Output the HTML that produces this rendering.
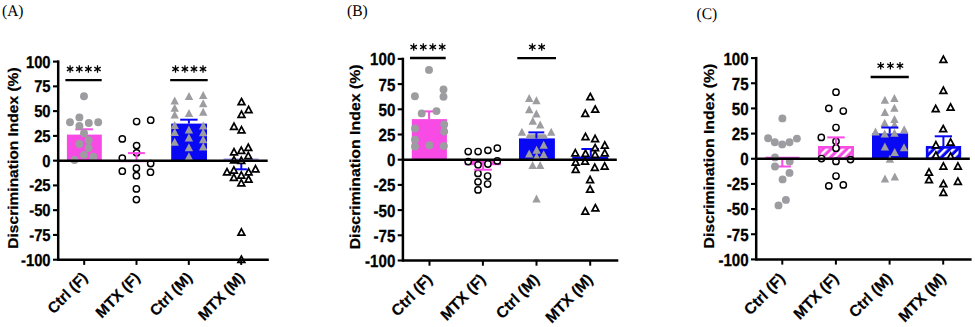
<!DOCTYPE html>
<html><head><meta charset="utf-8"><title>Discrimination Index</title>
<style>html,body{margin:0;padding:0;background:#fff;}body{width:975px;height:327px;overflow:hidden;}svg{display:block;}</style></head><body>
<svg width="975" height="327" viewBox="0 0 975 327">
<defs>
<pattern id="hp" patternUnits="userSpaceOnUse" width="5.6" height="5.6" patternTransform="rotate(45)"><rect width="5.6" height="5.6" fill="#f84ae4"/><rect x="0" width="2.5" height="5.6" fill="#fff"/></pattern>
<pattern id="hb" patternUnits="userSpaceOnUse" width="5.6" height="5.6" patternTransform="rotate(45)"><rect width="5.6" height="5.6" fill="#0808f5"/><rect x="0" width="2.5" height="5.6" fill="#fff"/></pattern>
</defs>
<rect width="975" height="327" fill="#fff"/>
<rect x="66.9" y="134.6" width="34.9" height="26.05" fill="#f84ae4"/>
<line x1="84.2" y1="134.6" x2="84.2" y2="129.3" stroke="#f84ae4" stroke-width="2" stroke-linecap="butt"/>
<line x1="75.3" y1="129.3" x2="92.9" y2="129.3" stroke="#f84ae4" stroke-width="2" stroke-linecap="butt"/>
<circle cx="84" cy="96.2" r="3.95" fill="#9d9da1"/>
<circle cx="79.4" cy="117.4" r="3.95" fill="#9d9da1"/>
<circle cx="70" cy="122.2" r="3.95" fill="#9d9da1"/>
<circle cx="79.4" cy="125.9" r="3.95" fill="#9d9da1"/>
<circle cx="88.8" cy="123" r="3.95" fill="#9d9da1"/>
<circle cx="98.2" cy="122.2" r="3.95" fill="#9d9da1"/>
<circle cx="88.6" cy="140.3" r="3.95" fill="#9d9da1"/>
<circle cx="79.4" cy="144" r="3.95" fill="#9d9da1"/>
<circle cx="88.6" cy="148" r="3.95" fill="#9d9da1"/>
<circle cx="84" cy="154.9" r="3.95" fill="#9d9da1"/>
<circle cx="93.3" cy="156.7" r="3.95" fill="#9d9da1"/>
<circle cx="74.5" cy="160" r="3.95" fill="#9d9da1"/>
<circle cx="84" cy="133.2" r="3.95" fill="#9d9da1"/>
<line x1="119" y1="161.9" x2="154" y2="161.9" stroke="#f84ae4" stroke-width="1" stroke-linecap="butt" opacity="0.5"/>
<circle cx="136.6" cy="121.5" r="3.15" fill="#fff" stroke="#000" stroke-width="1.45"/>
<circle cx="150.7" cy="120.2" r="3.15" fill="#fff" stroke="#000" stroke-width="1.45"/>
<circle cx="122.3" cy="138.9" r="3.15" fill="#fff" stroke="#000" stroke-width="1.45"/>
<circle cx="136.6" cy="145.6" r="3.15" fill="#fff" stroke="#000" stroke-width="1.45"/>
<circle cx="136.6" cy="152.8" r="3.15" fill="#fff" stroke="#000" stroke-width="1.45"/>
<circle cx="122.3" cy="158.1" r="3.15" fill="#fff" stroke="#000" stroke-width="1.45"/>
<circle cx="150.7" cy="163.5" r="3.15" fill="#fff" stroke="#000" stroke-width="1.45"/>
<circle cx="122.3" cy="171.2" r="3.15" fill="#fff" stroke="#000" stroke-width="1.45"/>
<circle cx="136.4" cy="168.2" r="3.15" fill="#fff" stroke="#000" stroke-width="1.45"/>
<circle cx="136.4" cy="175.7" r="3.15" fill="#fff" stroke="#000" stroke-width="1.45"/>
<circle cx="150.5" cy="172.2" r="3.15" fill="#fff" stroke="#000" stroke-width="1.45"/>
<circle cx="136.4" cy="188.9" r="3.15" fill="#fff" stroke="#000" stroke-width="1.45"/>
<circle cx="136.4" cy="199.6" r="3.15" fill="#fff" stroke="#000" stroke-width="1.45"/>
<line x1="136.5" y1="160.65" x2="136.5" y2="153.1" stroke="#f84ae4" stroke-width="2" stroke-linecap="butt"/>
<line x1="128" y1="153.1" x2="144.9" y2="153.1" stroke="#f84ae4" stroke-width="2" stroke-linecap="butt"/>
<rect x="171.2" y="123.6" width="35.8" height="37.05" fill="#0808f5"/>
<polygon points="174.7,96.6 178.9,104.6 170.5,104.6" fill="#9d9da1"/>
<polygon points="174.7,103.7 178.9,111.7 170.5,111.7" fill="#9d9da1"/>
<polygon points="174.7,110.6 178.9,118.6 170.5,118.6" fill="#9d9da1"/>
<polygon points="174.7,120.9 178.9,128.9 170.5,128.9" fill="#9d9da1"/>
<polygon points="174.7,127.9 178.9,135.9 170.5,135.9" fill="#9d9da1"/>
<polygon points="174.7,137.7 178.9,145.7 170.5,145.7" fill="#9d9da1"/>
<polygon points="189,92.1 193.2,100.1 184.8,100.1" fill="#9d9da1"/>
<polygon points="189,109 193.2,117 184.8,117" fill="#9d9da1"/>
<polygon points="188.9,125.4 193.1,133.4 184.7,133.4" fill="#9d9da1"/>
<polygon points="188.9,133.6 193.1,141.6 184.7,141.6" fill="#9d9da1"/>
<polygon points="188.9,143.3 193.1,151.3 184.7,151.3" fill="#9d9da1"/>
<polygon points="188.9,152.3 193.1,160.3 184.7,160.3" fill="#9d9da1"/>
<polygon points="203.2,91 207.4,99 199,99" fill="#9d9da1"/>
<polygon points="203.2,99.2 207.4,107.2 199,107.2" fill="#9d9da1"/>
<polygon points="203.2,107.7 207.4,115.7 199,115.7" fill="#9d9da1"/>
<polygon points="203.2,121.4 207.4,129.4 199,129.4" fill="#9d9da1"/>
<polygon points="203.2,128.3 207.4,136.3 199,136.3" fill="#9d9da1"/>
<polygon points="203.2,135.2 207.4,143.2 199,143.2" fill="#9d9da1"/>
<polygon points="203.2,142.4 207.4,150.4 199,150.4" fill="#9d9da1"/>
<line x1="188.9" y1="123.6" x2="188.9" y2="119.7" stroke="#0808f5" stroke-width="2" stroke-linecap="butt"/>
<line x1="180.2" y1="119.7" x2="197.6" y2="119.7" stroke="#0808f5" stroke-width="2" stroke-linecap="butt"/>
<line x1="223.5" y1="159.1" x2="258.5" y2="159.1" stroke="#0808f5" stroke-width="1" stroke-linecap="butt" opacity="0.55"/>
<line x1="241.3" y1="160.65" x2="241.3" y2="169.3" stroke="#0808f5" stroke-width="2" stroke-linecap="butt"/>
<line x1="235.9" y1="169.3" x2="246.9" y2="169.3" stroke="#0808f5" stroke-width="2" stroke-linecap="butt"/>
<polygon points="241.5,98.5 244.85,104.7 238.15,104.7" fill="#fff" stroke="#000" stroke-width="1.75" stroke-linejoin="miter"/>
<polygon points="248.6,106.4 251.95,112.6 245.25,112.6" fill="#fff" stroke="#000" stroke-width="1.75" stroke-linejoin="miter"/>
<polygon points="241.5,111.1 244.85,117.3 238.15,117.3" fill="#fff" stroke="#000" stroke-width="1.75" stroke-linejoin="miter"/>
<polygon points="234,123.2 237.35,129.4 230.65,129.4" fill="#fff" stroke="#000" stroke-width="1.75" stroke-linejoin="miter"/>
<polygon points="241.5,126.7 244.85,132.9 238.15,132.9" fill="#fff" stroke="#000" stroke-width="1.75" stroke-linejoin="miter"/>
<polygon points="234,148.6 237.35,154.8 230.65,154.8" fill="#fff" stroke="#000" stroke-width="1.75" stroke-linejoin="miter"/>
<polygon points="241.3,147.1 244.65,153.3 237.95,153.3" fill="#fff" stroke="#000" stroke-width="1.75" stroke-linejoin="miter"/>
<polygon points="248.3,144.1 251.65,150.3 244.95,150.3" fill="#fff" stroke="#000" stroke-width="1.75" stroke-linejoin="miter"/>
<polygon points="248.3,152.4 251.65,158.6 244.95,158.6" fill="#fff" stroke="#000" stroke-width="1.75" stroke-linejoin="miter"/>
<polygon points="234,156.7 237.35,162.9 230.65,162.9" fill="#fff" stroke="#000" stroke-width="1.75" stroke-linejoin="miter"/>
<polygon points="241.3,157.1 244.65,163.3 237.95,163.3" fill="#fff" stroke="#000" stroke-width="1.75" stroke-linejoin="miter"/>
<polygon points="227,168.6 230.35,174.8 223.65,174.8" fill="#fff" stroke="#000" stroke-width="1.75" stroke-linejoin="miter"/>
<polygon points="233.9,166.8 237.25,173 230.55,173" fill="#fff" stroke="#000" stroke-width="1.75" stroke-linejoin="miter"/>
<polygon points="241.3,171.8 244.65,178 237.95,178" fill="#fff" stroke="#000" stroke-width="1.75" stroke-linejoin="miter"/>
<polygon points="248.6,168.6 251.95,174.8 245.25,174.8" fill="#fff" stroke="#000" stroke-width="1.75" stroke-linejoin="miter"/>
<polygon points="255.5,165.6 258.85,171.8 252.15,171.8" fill="#fff" stroke="#000" stroke-width="1.75" stroke-linejoin="miter"/>
<polygon points="233.9,174.1 237.25,180.3 230.55,180.3" fill="#fff" stroke="#000" stroke-width="1.75" stroke-linejoin="miter"/>
<polygon points="248.6,175.9 251.95,182.1 245.25,182.1" fill="#fff" stroke="#000" stroke-width="1.75" stroke-linejoin="miter"/>
<polygon points="241.3,179.6 244.65,185.8 237.95,185.8" fill="#fff" stroke="#000" stroke-width="1.75" stroke-linejoin="miter"/>
<polygon points="241.4,228.9 244.75,235.1 238.05,235.1" fill="#fff" stroke="#000" stroke-width="1.75" stroke-linejoin="miter"/>
<polygon points="241.4,256.2 244.75,262.4 238.05,262.4" fill="#fff" stroke="#000" stroke-width="1.75" stroke-linejoin="miter"/>
<rect x="411.8" y="119.1" width="35.1" height="40.6" fill="#f84ae4"/>
<line x1="429.1" y1="119.1" x2="429.1" y2="111.4" stroke="#f84ae4" stroke-width="2" stroke-linecap="butt"/>
<line x1="420.5" y1="111.4" x2="437.7" y2="111.4" stroke="#f84ae4" stroke-width="2" stroke-linecap="butt"/>
<circle cx="429" cy="69.9" r="3.95" fill="#9d9da1"/>
<circle cx="443.5" cy="89.5" r="3.95" fill="#9d9da1"/>
<circle cx="443.5" cy="96.7" r="3.95" fill="#9d9da1"/>
<circle cx="414.9" cy="96.2" r="3.95" fill="#9d9da1"/>
<circle cx="421.7" cy="113.4" r="3.95" fill="#9d9da1"/>
<circle cx="436.5" cy="111.1" r="3.95" fill="#9d9da1"/>
<circle cx="415" cy="128.4" r="3.95" fill="#9d9da1"/>
<circle cx="444.2" cy="124.4" r="3.95" fill="#9d9da1"/>
<circle cx="444.2" cy="131.6" r="3.95" fill="#9d9da1"/>
<circle cx="415" cy="139.6" r="3.95" fill="#9d9da1"/>
<circle cx="415" cy="146.6" r="3.95" fill="#9d9da1"/>
<circle cx="429.4" cy="145.3" r="3.95" fill="#9d9da1"/>
<circle cx="443.9" cy="145.9" r="3.95" fill="#9d9da1"/>
<rect x="464.8" y="159.7" width="36" height="5.5" fill="#f84ae4"/>
<circle cx="468.2" cy="151.5" r="3.15" fill="#fff" stroke="#000" stroke-width="1.45"/>
<circle cx="478.1" cy="151.5" r="3.15" fill="#fff" stroke="#000" stroke-width="1.45"/>
<circle cx="487.9" cy="150.3" r="3.15" fill="#fff" stroke="#000" stroke-width="1.45"/>
<circle cx="497.3" cy="148.1" r="3.15" fill="#fff" stroke="#000" stroke-width="1.45"/>
<circle cx="468.2" cy="161.6" r="3.15" fill="#fff" stroke="#000" stroke-width="1.45"/>
<circle cx="478.1" cy="164.8" r="3.15" fill="#fff" stroke="#000" stroke-width="1.45"/>
<circle cx="487.9" cy="164" r="3.15" fill="#fff" stroke="#000" stroke-width="1.45"/>
<circle cx="497.3" cy="160.9" r="3.15" fill="#fff" stroke="#000" stroke-width="1.45"/>
<circle cx="478" cy="173.4" r="3.15" fill="#fff" stroke="#000" stroke-width="1.45"/>
<circle cx="487.6" cy="176" r="3.15" fill="#fff" stroke="#000" stroke-width="1.45"/>
<circle cx="478" cy="181.8" r="3.15" fill="#fff" stroke="#000" stroke-width="1.45"/>
<circle cx="487.6" cy="184" r="3.15" fill="#fff" stroke="#000" stroke-width="1.45"/>
<circle cx="478" cy="189.9" r="3.15" fill="#fff" stroke="#000" stroke-width="1.45"/>
<line x1="483.1" y1="165.2" x2="483.1" y2="169.7" stroke="#f84ae4" stroke-width="2" stroke-linecap="butt"/>
<line x1="474.1" y1="169.7" x2="491.8" y2="169.7" stroke="#f84ae4" stroke-width="2" stroke-linecap="butt"/>
<rect x="519" y="138.4" width="35.9" height="21.3" fill="#0808f5"/>
<polygon points="529.2,94.1 533.4,102.1 525,102.1" fill="#9d9da1"/>
<polygon points="536.4,96.2 540.6,104.2 532.2,104.2" fill="#9d9da1"/>
<polygon points="529.2,105.3 533.4,113.3 525,113.3" fill="#9d9da1"/>
<polygon points="536.4,109.5 540.6,117.5 532.2,117.5" fill="#9d9da1"/>
<polygon points="532.8,116.8 537,124.8 528.6,124.8" fill="#9d9da1"/>
<polygon points="540.2,120.4 544.4,128.4 536,128.4" fill="#9d9da1"/>
<polygon points="521.9,127.8 526.1,135.8 517.7,135.8" fill="#9d9da1"/>
<polygon points="551.2,127.8 555.4,135.8 547,135.8" fill="#9d9da1"/>
<polygon points="543.7,140.8 547.9,148.8 539.5,148.8" fill="#9d9da1"/>
<polygon points="536.6,145.7 540.8,153.7 532.4,153.7" fill="#9d9da1"/>
<polygon points="529.2,149.4 533.4,157.4 525,157.4" fill="#9d9da1"/>
<polygon points="543.7,150.3 547.9,158.3 539.5,158.3" fill="#9d9da1"/>
<polygon points="536.6,152.5 540.8,160.5 532.4,160.5" fill="#9d9da1"/>
<polygon points="532.6,160.9 536.8,168.9 528.4,168.9" fill="#9d9da1"/>
<polygon points="540.2,160.9 544.4,168.9 536,168.9" fill="#9d9da1"/>
<polygon points="536.5,194.6 540.7,202.6 532.3,202.6" fill="#9d9da1"/>
<polygon points="525.4,138.6 548.1,138.6 545.7,134.2 527.8,134.2" fill="#9d9da1"/>
<line x1="536.4" y1="138.4" x2="536.4" y2="132.4" stroke="#0808f5" stroke-width="2" stroke-linecap="butt"/>
<line x1="528.4" y1="132.4" x2="544.3" y2="132.4" stroke="#0808f5" stroke-width="2" stroke-linecap="butt"/>
<rect x="572.2" y="156.6" width="36" height="3.1" fill="#0808f5"/>
<line x1="590.8" y1="156.6" x2="590.8" y2="149" stroke="#0808f5" stroke-width="2" stroke-linecap="butt"/>
<line x1="581.4" y1="149" x2="598.9" y2="149" stroke="#0808f5" stroke-width="2" stroke-linecap="butt"/>
<polygon points="590.3,93.5 593.65,99.7 586.95,99.7" fill="#fff" stroke="#000" stroke-width="1.75" stroke-linejoin="miter"/>
<polygon points="595.2,106 598.55,112.2 591.85,112.2" fill="#fff" stroke="#000" stroke-width="1.75" stroke-linejoin="miter"/>
<polygon points="585.3,110.2 588.65,116.4 581.95,116.4" fill="#fff" stroke="#000" stroke-width="1.75" stroke-linejoin="miter"/>
<polygon points="585.5,133.4 588.85,139.6 582.15,139.6" fill="#fff" stroke="#000" stroke-width="1.75" stroke-linejoin="miter"/>
<polygon points="595.1,135.3 598.45,141.5 591.75,141.5" fill="#fff" stroke="#000" stroke-width="1.75" stroke-linejoin="miter"/>
<polygon points="604.8,141.9 608.15,148.1 601.45,148.1" fill="#fff" stroke="#000" stroke-width="1.75" stroke-linejoin="miter"/>
<polygon points="595.1,144.5 598.45,150.7 591.75,150.7" fill="#fff" stroke="#000" stroke-width="1.75" stroke-linejoin="miter"/>
<polygon points="575.3,149.6 578.65,155.8 571.95,155.8" fill="#fff" stroke="#000" stroke-width="1.75" stroke-linejoin="miter"/>
<polygon points="585.5,150.1 588.85,156.3 582.15,156.3" fill="#fff" stroke="#000" stroke-width="1.75" stroke-linejoin="miter"/>
<polygon points="595.1,151.2 598.45,157.4 591.75,157.4" fill="#fff" stroke="#000" stroke-width="1.75" stroke-linejoin="miter"/>
<polygon points="604.8,149.6 608.15,155.8 601.45,155.8" fill="#fff" stroke="#000" stroke-width="1.75" stroke-linejoin="miter"/>
<polygon points="575.7,158.9 579.05,165.1 572.35,165.1" fill="#fff" stroke="#000" stroke-width="1.75" stroke-linejoin="miter"/>
<polygon points="585.1,157.9 588.45,164.1 581.75,164.1" fill="#fff" stroke="#000" stroke-width="1.75" stroke-linejoin="miter"/>
<polygon points="575.7,166.1 579.05,172.3 572.35,172.3" fill="#fff" stroke="#000" stroke-width="1.75" stroke-linejoin="miter"/>
<polygon points="594.8,164.1 598.15,170.3 591.45,170.3" fill="#fff" stroke="#000" stroke-width="1.75" stroke-linejoin="miter"/>
<polygon points="604.7,162.9 608.05,169.1 601.35,169.1" fill="#fff" stroke="#000" stroke-width="1.75" stroke-linejoin="miter"/>
<polygon points="590.1,176.4 593.45,182.6 586.75,182.6" fill="#fff" stroke="#000" stroke-width="1.75" stroke-linejoin="miter"/>
<polygon points="590.1,185.8 593.45,192 586.75,192" fill="#fff" stroke="#000" stroke-width="1.75" stroke-linejoin="miter"/>
<polygon points="585.3,207.8 588.65,214 581.95,214" fill="#fff" stroke="#000" stroke-width="1.75" stroke-linejoin="miter"/>
<polygon points="595.4,204.6 598.75,210.8 592.05,210.8" fill="#fff" stroke="#000" stroke-width="1.75" stroke-linejoin="miter"/>
<line x1="765.4" y1="157.3" x2="799.4" y2="157.3" stroke="#f84ae4" stroke-width="1.2" stroke-linecap="butt"/>
<line x1="782.3" y1="158.75" x2="782.3" y2="166.5" stroke="#f84ae4" stroke-width="2" stroke-linecap="butt"/>
<line x1="773.8" y1="166.5" x2="791" y2="166.5" stroke="#f84ae4" stroke-width="2" stroke-linecap="butt"/>
<circle cx="782.4" cy="118.4" r="3.95" fill="#9d9da1"/>
<circle cx="768.1" cy="138.3" r="3.95" fill="#9d9da1"/>
<circle cx="774.8" cy="142.2" r="3.95" fill="#9d9da1"/>
<circle cx="782.2" cy="144.4" r="3.95" fill="#9d9da1"/>
<circle cx="789.5" cy="142.2" r="3.95" fill="#9d9da1"/>
<circle cx="796.9" cy="138.6" r="3.95" fill="#9d9da1"/>
<circle cx="775" cy="157.4" r="3.95" fill="#9d9da1"/>
<circle cx="789.7" cy="161.5" r="3.95" fill="#9d9da1"/>
<circle cx="775" cy="166.5" r="3.95" fill="#9d9da1"/>
<circle cx="789.5" cy="172.9" r="3.95" fill="#9d9da1"/>
<circle cx="782.6" cy="179.4" r="3.95" fill="#9d9da1"/>
<circle cx="785.9" cy="199.9" r="3.95" fill="#9d9da1"/>
<circle cx="778.5" cy="205.4" r="3.95" fill="#9d9da1"/>
<rect x="818.1" y="146" width="35.8" height="12.75" fill="url(#hp)"/>
<rect x="819.4" y="147.3" width="33.2" height="11.45" fill="none" stroke="#f84ae4" stroke-width="2.6"/>
<circle cx="836" cy="92.2" r="3.15" fill="#fff" stroke="#000" stroke-width="1.45"/>
<circle cx="828.8" cy="108.3" r="3.15" fill="#fff" stroke="#000" stroke-width="1.45"/>
<circle cx="843.3" cy="111" r="3.15" fill="#fff" stroke="#000" stroke-width="1.45"/>
<circle cx="836" cy="127.5" r="3.15" fill="#fff" stroke="#000" stroke-width="1.45"/>
<circle cx="821.3" cy="137.4" r="3.15" fill="#fff" stroke="#000" stroke-width="1.45"/>
<circle cx="836" cy="141.3" r="3.15" fill="#fff" stroke="#000" stroke-width="1.45"/>
<circle cx="836" cy="148.2" r="3.15" fill="#fff" stroke="#000" stroke-width="1.45"/>
<circle cx="821.5" cy="158.5" r="3.15" fill="#fff" stroke="#000" stroke-width="1.45"/>
<circle cx="836" cy="161.4" r="3.15" fill="#fff" stroke="#000" stroke-width="1.45"/>
<circle cx="850.5" cy="159.6" r="3.15" fill="#fff" stroke="#000" stroke-width="1.45"/>
<circle cx="836" cy="176" r="3.15" fill="#fff" stroke="#000" stroke-width="1.45"/>
<circle cx="828.8" cy="185.9" r="3.15" fill="#fff" stroke="#000" stroke-width="1.45"/>
<circle cx="843.3" cy="184.9" r="3.15" fill="#fff" stroke="#000" stroke-width="1.45"/>
<line x1="835.9" y1="146" x2="835.9" y2="137.4" stroke="#f84ae4" stroke-width="2" stroke-linecap="butt"/>
<line x1="827.3" y1="137.4" x2="844.7" y2="137.4" stroke="#f84ae4" stroke-width="2" stroke-linecap="butt"/>
<rect x="872" y="133.4" width="36.1" height="25.35" fill="#0808f5"/>
<polygon points="884.9,95.8 889.1,103.8 880.7,103.8" fill="#9d9da1"/>
<polygon points="884.9,107.9 889.1,115.9 880.7,115.9" fill="#9d9da1"/>
<polygon points="884.7,118.7 888.9,126.7 880.5,126.7" fill="#9d9da1"/>
<polygon points="884.7,129.4 888.9,137.4 880.5,137.4" fill="#9d9da1"/>
<polygon points="884.9,142.4 889.1,150.4 880.7,150.4" fill="#9d9da1"/>
<polygon points="894.4,93.9 898.6,101.9 890.2,101.9" fill="#9d9da1"/>
<polygon points="894.4,103.8 898.6,111.8 890.2,111.8" fill="#9d9da1"/>
<polygon points="894.5,115 898.7,123 890.3,123" fill="#9d9da1"/>
<polygon points="894.5,120.5 898.7,128.5 890.3,128.5" fill="#9d9da1"/>
<polygon points="894.5,128.8 898.7,136.8 890.3,136.8" fill="#9d9da1"/>
<polygon points="894.7,148 898.9,156 890.5,156" fill="#9d9da1"/>
<polygon points="875.5,127.5 879.7,135.5 871.3,135.5" fill="#9d9da1"/>
<polygon points="904.2,125.2 908.4,133.2 900,133.2" fill="#9d9da1"/>
<polygon points="904,143.3 908.2,151.3 899.8,151.3" fill="#9d9da1"/>
<polygon points="889.9,154.7 894.1,162.7 885.7,162.7" fill="#9d9da1"/>
<polygon points="885,174.4 889.2,182.4 880.8,182.4" fill="#9d9da1"/>
<polygon points="894.8,172.5 899,180.5 890.6,180.5" fill="#9d9da1"/>
<line x1="889.7" y1="133.4" x2="889.7" y2="127.5" stroke="#0808f5" stroke-width="2" stroke-linecap="butt"/>
<line x1="881.3" y1="127.5" x2="898.3" y2="127.5" stroke="#0808f5" stroke-width="2" stroke-linecap="butt"/>
<rect x="925.9" y="146.1" width="35.2" height="12.65" fill="url(#hb)"/>
<rect x="927.2" y="147.4" width="32.6" height="11.35" fill="none" stroke="#0808f5" stroke-width="2.6"/>
<polygon points="943.4,56.2 946.75,62.4 940.05,62.4" fill="#fff" stroke="#000" stroke-width="1.75" stroke-linejoin="miter"/>
<polygon points="943.4,87.2 946.75,93.4 940.05,93.4" fill="#fff" stroke="#000" stroke-width="1.75" stroke-linejoin="miter"/>
<polygon points="935.7,105.3 939.05,111.5 932.35,111.5" fill="#fff" stroke="#000" stroke-width="1.75" stroke-linejoin="miter"/>
<polygon points="950.6,103.9 953.95,110.1 947.25,110.1" fill="#fff" stroke="#000" stroke-width="1.75" stroke-linejoin="miter"/>
<polygon points="943.2,125.5 946.55,131.7 939.85,131.7" fill="#fff" stroke="#000" stroke-width="1.75" stroke-linejoin="miter"/>
<polygon points="950.6,138.9 953.95,145.1 947.25,145.1" fill="#fff" stroke="#000" stroke-width="1.75" stroke-linejoin="miter"/>
<polygon points="935.9,141.6 939.25,147.8 932.55,147.8" fill="#fff" stroke="#000" stroke-width="1.75" stroke-linejoin="miter"/>
<polygon points="935.9,151.9 939.25,158.1 932.55,158.1" fill="#fff" stroke="#000" stroke-width="1.75" stroke-linejoin="miter"/>
<polygon points="950.6,152.9 953.95,159.1 947.25,159.1" fill="#fff" stroke="#000" stroke-width="1.75" stroke-linejoin="miter"/>
<polygon points="943.4,162.9 946.75,169.1 940.05,169.1" fill="#fff" stroke="#000" stroke-width="1.75" stroke-linejoin="miter"/>
<polygon points="957.9,162.9 961.25,169.1 954.55,169.1" fill="#fff" stroke="#000" stroke-width="1.75" stroke-linejoin="miter"/>
<polygon points="929,168.8 932.35,175 925.65,175" fill="#fff" stroke="#000" stroke-width="1.75" stroke-linejoin="miter"/>
<polygon points="929,176.4 932.35,182.6 925.65,182.6" fill="#fff" stroke="#000" stroke-width="1.75" stroke-linejoin="miter"/>
<polygon points="943.4,180.5 946.75,186.7 940.05,186.7" fill="#fff" stroke="#000" stroke-width="1.75" stroke-linejoin="miter"/>
<polygon points="943.4,189.1 946.75,195.3 940.05,195.3" fill="#fff" stroke="#000" stroke-width="1.75" stroke-linejoin="miter"/>
<polygon points="957.9,178.1 961.25,184.3 954.55,184.3" fill="#fff" stroke="#000" stroke-width="1.75" stroke-linejoin="miter"/>
<line x1="943.4" y1="146.1" x2="943.4" y2="136.3" stroke="#0808f5" stroke-width="2" stroke-linecap="butt"/>
<line x1="934.7" y1="136.3" x2="952" y2="136.3" stroke="#0808f5" stroke-width="2" stroke-linecap="butt"/>
<line x1="58.2" y1="60.4" x2="58.2" y2="260.9" stroke="#000" stroke-width="2.5" stroke-linecap="butt"/>
<line x1="53" y1="61.6" x2="58.2" y2="61.6" stroke="#000" stroke-width="2.1" stroke-linecap="butt"/>
<text transform="translate(50.6 67.6) scale(1 1.16)" font-family='"Liberation Sans", sans-serif' font-size="14.8" font-weight="bold" text-anchor="end" text-rendering="geometricPrecision" stroke="#000" stroke-width="0.25">100</text>
<line x1="53" y1="86.36" x2="58.2" y2="86.36" stroke="#000" stroke-width="2.1" stroke-linecap="butt"/>
<text transform="translate(50.6 92.36) scale(1 1.16)" font-family='"Liberation Sans", sans-serif' font-size="14.8" font-weight="bold" text-anchor="end" text-rendering="geometricPrecision" stroke="#000" stroke-width="0.25">75</text>
<line x1="53" y1="111.12" x2="58.2" y2="111.12" stroke="#000" stroke-width="2.1" stroke-linecap="butt"/>
<text transform="translate(50.6 117.12) scale(1 1.16)" font-family='"Liberation Sans", sans-serif' font-size="14.8" font-weight="bold" text-anchor="end" text-rendering="geometricPrecision" stroke="#000" stroke-width="0.25">50</text>
<line x1="53" y1="135.89" x2="58.2" y2="135.89" stroke="#000" stroke-width="2.1" stroke-linecap="butt"/>
<text transform="translate(50.6 141.89) scale(1 1.16)" font-family='"Liberation Sans", sans-serif' font-size="14.8" font-weight="bold" text-anchor="end" text-rendering="geometricPrecision" stroke="#000" stroke-width="0.25">25</text>
<line x1="53" y1="160.65" x2="58.2" y2="160.65" stroke="#000" stroke-width="2.1" stroke-linecap="butt"/>
<text transform="translate(50.6 166.65) scale(1 1.16)" font-family='"Liberation Sans", sans-serif' font-size="14.8" font-weight="bold" text-anchor="end" text-rendering="geometricPrecision" stroke="#000" stroke-width="0.25">0</text>
<line x1="53" y1="185.41" x2="58.2" y2="185.41" stroke="#000" stroke-width="2.1" stroke-linecap="butt"/>
<text transform="translate(50.6 191.41) scale(1 1.16)" font-family='"Liberation Sans", sans-serif' font-size="14.8" font-weight="bold" text-anchor="end" text-rendering="geometricPrecision" stroke="#000" stroke-width="0.25">-25</text>
<line x1="53" y1="210.17" x2="58.2" y2="210.17" stroke="#000" stroke-width="2.1" stroke-linecap="butt"/>
<text transform="translate(50.6 216.17) scale(1 1.16)" font-family='"Liberation Sans", sans-serif' font-size="14.8" font-weight="bold" text-anchor="end" text-rendering="geometricPrecision" stroke="#000" stroke-width="0.25">-50</text>
<line x1="53" y1="234.94" x2="58.2" y2="234.94" stroke="#000" stroke-width="2.1" stroke-linecap="butt"/>
<text transform="translate(50.6 240.94) scale(1 1.16)" font-family='"Liberation Sans", sans-serif' font-size="14.8" font-weight="bold" text-anchor="end" text-rendering="geometricPrecision" stroke="#000" stroke-width="0.25">-75</text>
<line x1="53" y1="259.7" x2="58.2" y2="259.7" stroke="#000" stroke-width="2.1" stroke-linecap="butt"/>
<text transform="translate(50.6 265.7) scale(1 1.16)" font-family='"Liberation Sans", sans-serif' font-size="14.8" font-weight="bold" text-anchor="end" text-rendering="geometricPrecision" stroke="#000" stroke-width="0.25">-100</text>
<line x1="58.2" y1="259.7" x2="268.8" y2="259.7" stroke="#000" stroke-width="2.5" stroke-linecap="butt"/>
<line x1="84.2" y1="259.7" x2="84.2" y2="264.9" stroke="#000" stroke-width="2" stroke-linecap="butt"/>
<line x1="136.5" y1="259.7" x2="136.5" y2="264.9" stroke="#000" stroke-width="2" stroke-linecap="butt"/>
<line x1="188.8" y1="259.7" x2="188.8" y2="264.9" stroke="#000" stroke-width="2" stroke-linecap="butt"/>
<line x1="241.2" y1="259.7" x2="241.2" y2="264.9" stroke="#000" stroke-width="2" stroke-linecap="butt"/>
<line x1="58.2" y1="160.65" x2="267.7" y2="160.65" stroke="#000" stroke-width="2.5" stroke-linecap="butt"/>
<text transform="translate(18.4 158.05) scale(1 1.095) rotate(-90)" font-family='"Liberation Sans", sans-serif' font-size="14.2" font-weight="bold" text-anchor="middle" text-rendering="geometricPrecision" stroke="#000" stroke-width="0.2">Discrimination Index (%)</text>
<text transform="translate(88.4 278.7) scale(1 1.035) rotate(-45)" font-family='"Liberation Sans", sans-serif' font-size="15" font-weight="bold" text-anchor="end" text-rendering="geometricPrecision" stroke="#000" stroke-width="0.2">Ctrl (F)</text>
<text transform="translate(140.7 278.7) scale(1 1.035) rotate(-45)" font-family='"Liberation Sans", sans-serif' font-size="15" font-weight="bold" text-anchor="end" text-rendering="geometricPrecision" stroke="#000" stroke-width="0.2">MTX (F)</text>
<text transform="translate(193 278.7) scale(1 1.035) rotate(-45)" font-family='"Liberation Sans", sans-serif' font-size="15" font-weight="bold" text-anchor="end" text-rendering="geometricPrecision" stroke="#000" stroke-width="0.2">Ctrl (M)</text>
<text transform="translate(245.4 278.7) scale(1 1.035) rotate(-45)" font-family='"Liberation Sans", sans-serif' font-size="15" font-weight="bold" text-anchor="end" text-rendering="geometricPrecision" stroke="#000" stroke-width="0.2">MTX (M)</text>
<text transform="translate(2 15.8) scale(1 1.05)" font-family='"Liberation Serif", serif' font-size="15.5" font-weight="normal" text-anchor="start" text-rendering="geometricPrecision">(A)</text>
<line x1="402.9" y1="57.7" x2="402.9" y2="261.7" stroke="#000" stroke-width="2.5" stroke-linecap="butt"/>
<line x1="397.7" y1="58.9" x2="402.9" y2="58.9" stroke="#000" stroke-width="2.1" stroke-linecap="butt"/>
<text transform="translate(395.3 65.3) scale(1 1.16)" font-family='"Liberation Sans", sans-serif' font-size="15.1" font-weight="bold" text-anchor="end" text-rendering="geometricPrecision" stroke="#000" stroke-width="0.25">100</text>
<line x1="397.7" y1="84.1" x2="402.9" y2="84.1" stroke="#000" stroke-width="2.1" stroke-linecap="butt"/>
<text transform="translate(395.3 90.5) scale(1 1.16)" font-family='"Liberation Sans", sans-serif' font-size="15.1" font-weight="bold" text-anchor="end" text-rendering="geometricPrecision" stroke="#000" stroke-width="0.25">75</text>
<line x1="397.7" y1="109.3" x2="402.9" y2="109.3" stroke="#000" stroke-width="2.1" stroke-linecap="butt"/>
<text transform="translate(395.3 115.7) scale(1 1.16)" font-family='"Liberation Sans", sans-serif' font-size="15.1" font-weight="bold" text-anchor="end" text-rendering="geometricPrecision" stroke="#000" stroke-width="0.25">50</text>
<line x1="397.7" y1="134.5" x2="402.9" y2="134.5" stroke="#000" stroke-width="2.1" stroke-linecap="butt"/>
<text transform="translate(395.3 140.9) scale(1 1.16)" font-family='"Liberation Sans", sans-serif' font-size="15.1" font-weight="bold" text-anchor="end" text-rendering="geometricPrecision" stroke="#000" stroke-width="0.25">25</text>
<line x1="397.7" y1="159.7" x2="402.9" y2="159.7" stroke="#000" stroke-width="2.1" stroke-linecap="butt"/>
<text transform="translate(395.3 166.1) scale(1 1.16)" font-family='"Liberation Sans", sans-serif' font-size="15.1" font-weight="bold" text-anchor="end" text-rendering="geometricPrecision" stroke="#000" stroke-width="0.25">0</text>
<line x1="397.7" y1="184.9" x2="402.9" y2="184.9" stroke="#000" stroke-width="2.1" stroke-linecap="butt"/>
<text transform="translate(395.3 191.3) scale(1 1.16)" font-family='"Liberation Sans", sans-serif' font-size="15.1" font-weight="bold" text-anchor="end" text-rendering="geometricPrecision" stroke="#000" stroke-width="0.25">-25</text>
<line x1="397.7" y1="210.1" x2="402.9" y2="210.1" stroke="#000" stroke-width="2.1" stroke-linecap="butt"/>
<text transform="translate(395.3 216.5) scale(1 1.16)" font-family='"Liberation Sans", sans-serif' font-size="15.1" font-weight="bold" text-anchor="end" text-rendering="geometricPrecision" stroke="#000" stroke-width="0.25">-50</text>
<line x1="397.7" y1="235.3" x2="402.9" y2="235.3" stroke="#000" stroke-width="2.1" stroke-linecap="butt"/>
<text transform="translate(395.3 241.7) scale(1 1.16)" font-family='"Liberation Sans", sans-serif' font-size="15.1" font-weight="bold" text-anchor="end" text-rendering="geometricPrecision" stroke="#000" stroke-width="0.25">-75</text>
<line x1="397.7" y1="260.5" x2="402.9" y2="260.5" stroke="#000" stroke-width="2.1" stroke-linecap="butt"/>
<text transform="translate(395.3 266.9) scale(1 1.16)" font-family='"Liberation Sans", sans-serif' font-size="15.1" font-weight="bold" text-anchor="end" text-rendering="geometricPrecision" stroke="#000" stroke-width="0.25">-100</text>
<line x1="402.9" y1="260.5" x2="618.3" y2="260.5" stroke="#000" stroke-width="2.5" stroke-linecap="butt"/>
<line x1="429.5" y1="260.5" x2="429.5" y2="265.7" stroke="#000" stroke-width="2" stroke-linecap="butt"/>
<line x1="482.9" y1="260.5" x2="482.9" y2="265.7" stroke="#000" stroke-width="2" stroke-linecap="butt"/>
<line x1="536.5" y1="260.5" x2="536.5" y2="265.7" stroke="#000" stroke-width="2" stroke-linecap="butt"/>
<line x1="590.2" y1="260.5" x2="590.2" y2="265.7" stroke="#000" stroke-width="2" stroke-linecap="butt"/>
<line x1="402.9" y1="159.7" x2="616.8" y2="159.7" stroke="#000" stroke-width="2.5" stroke-linecap="butt"/>
<text transform="translate(360.4 156.9) scale(1 1.095) rotate(-90)" font-family='"Liberation Sans", sans-serif' font-size="14.48" font-weight="bold" text-anchor="middle" text-rendering="geometricPrecision" stroke="#000" stroke-width="0.2">Discrimination Index (%)</text>
<text transform="translate(433 280.5) scale(1 1.035) rotate(-45)" font-family='"Liberation Sans", sans-serif' font-size="15.3" font-weight="bold" text-anchor="end" text-rendering="geometricPrecision" stroke="#000" stroke-width="0.2">Ctrl (F)</text>
<text transform="translate(486.4 280.5) scale(1 1.035) rotate(-45)" font-family='"Liberation Sans", sans-serif' font-size="15.3" font-weight="bold" text-anchor="end" text-rendering="geometricPrecision" stroke="#000" stroke-width="0.2">MTX (F)</text>
<text transform="translate(540 280.5) scale(1 1.035) rotate(-45)" font-family='"Liberation Sans", sans-serif' font-size="15.3" font-weight="bold" text-anchor="end" text-rendering="geometricPrecision" stroke="#000" stroke-width="0.2">Ctrl (M)</text>
<text transform="translate(593.7 280.5) scale(1 1.035) rotate(-45)" font-family='"Liberation Sans", sans-serif' font-size="15.3" font-weight="bold" text-anchor="end" text-rendering="geometricPrecision" stroke="#000" stroke-width="0.2">MTX (M)</text>
<text transform="translate(347 16) scale(1 1.05)" font-family='"Liberation Serif", serif' font-size="15.5" font-weight="normal" text-anchor="start" text-rendering="geometricPrecision">(B)</text>
<line x1="756.2" y1="56.9" x2="756.2" y2="260.6" stroke="#000" stroke-width="2.5" stroke-linecap="butt"/>
<line x1="751" y1="58.1" x2="756.2" y2="58.1" stroke="#000" stroke-width="2.1" stroke-linecap="butt"/>
<text transform="translate(748.6 64.5) scale(1 1.16)" font-family='"Liberation Sans", sans-serif' font-size="15.1" font-weight="bold" text-anchor="end" text-rendering="geometricPrecision" stroke="#000" stroke-width="0.25">100</text>
<line x1="751" y1="83.26" x2="756.2" y2="83.26" stroke="#000" stroke-width="2.1" stroke-linecap="butt"/>
<text transform="translate(748.6 89.66) scale(1 1.16)" font-family='"Liberation Sans", sans-serif' font-size="15.1" font-weight="bold" text-anchor="end" text-rendering="geometricPrecision" stroke="#000" stroke-width="0.25">75</text>
<line x1="751" y1="108.42" x2="756.2" y2="108.42" stroke="#000" stroke-width="2.1" stroke-linecap="butt"/>
<text transform="translate(748.6 114.83) scale(1 1.16)" font-family='"Liberation Sans", sans-serif' font-size="15.1" font-weight="bold" text-anchor="end" text-rendering="geometricPrecision" stroke="#000" stroke-width="0.25">50</text>
<line x1="751" y1="133.59" x2="756.2" y2="133.59" stroke="#000" stroke-width="2.1" stroke-linecap="butt"/>
<text transform="translate(748.6 139.99) scale(1 1.16)" font-family='"Liberation Sans", sans-serif' font-size="15.1" font-weight="bold" text-anchor="end" text-rendering="geometricPrecision" stroke="#000" stroke-width="0.25">25</text>
<line x1="751" y1="158.75" x2="756.2" y2="158.75" stroke="#000" stroke-width="2.1" stroke-linecap="butt"/>
<text transform="translate(748.6 165.15) scale(1 1.16)" font-family='"Liberation Sans", sans-serif' font-size="15.1" font-weight="bold" text-anchor="end" text-rendering="geometricPrecision" stroke="#000" stroke-width="0.25">0</text>
<line x1="751" y1="183.91" x2="756.2" y2="183.91" stroke="#000" stroke-width="2.1" stroke-linecap="butt"/>
<text transform="translate(748.6 190.31) scale(1 1.16)" font-family='"Liberation Sans", sans-serif' font-size="15.1" font-weight="bold" text-anchor="end" text-rendering="geometricPrecision" stroke="#000" stroke-width="0.25">-25</text>
<line x1="751" y1="209.07" x2="756.2" y2="209.07" stroke="#000" stroke-width="2.1" stroke-linecap="butt"/>
<text transform="translate(748.6 215.47) scale(1 1.16)" font-family='"Liberation Sans", sans-serif' font-size="15.1" font-weight="bold" text-anchor="end" text-rendering="geometricPrecision" stroke="#000" stroke-width="0.25">-50</text>
<line x1="751" y1="234.24" x2="756.2" y2="234.24" stroke="#000" stroke-width="2.1" stroke-linecap="butt"/>
<text transform="translate(748.6 240.64) scale(1 1.16)" font-family='"Liberation Sans", sans-serif' font-size="15.1" font-weight="bold" text-anchor="end" text-rendering="geometricPrecision" stroke="#000" stroke-width="0.25">-75</text>
<line x1="751" y1="259.4" x2="756.2" y2="259.4" stroke="#000" stroke-width="2.1" stroke-linecap="butt"/>
<text transform="translate(748.6 265.8) scale(1 1.16)" font-family='"Liberation Sans", sans-serif' font-size="15.1" font-weight="bold" text-anchor="end" text-rendering="geometricPrecision" stroke="#000" stroke-width="0.25">-100</text>
<line x1="756.2" y1="259.4" x2="971.6" y2="259.4" stroke="#000" stroke-width="2.5" stroke-linecap="butt"/>
<line x1="782.3" y1="259.4" x2="782.3" y2="264.6" stroke="#000" stroke-width="2" stroke-linecap="butt"/>
<line x1="835.9" y1="259.4" x2="835.9" y2="264.6" stroke="#000" stroke-width="2" stroke-linecap="butt"/>
<line x1="889.6" y1="259.4" x2="889.6" y2="264.6" stroke="#000" stroke-width="2" stroke-linecap="butt"/>
<line x1="943.2" y1="259.4" x2="943.2" y2="264.6" stroke="#000" stroke-width="2" stroke-linecap="butt"/>
<line x1="756.2" y1="158.75" x2="969.8" y2="158.75" stroke="#000" stroke-width="2.5" stroke-linecap="butt"/>
<text transform="translate(713.6 156.05) scale(1 1.095) rotate(-90)" font-family='"Liberation Sans", sans-serif' font-size="14.48" font-weight="bold" text-anchor="middle" text-rendering="geometricPrecision" stroke="#000" stroke-width="0.2">Discrimination Index (%)</text>
<text transform="translate(785.8 279.4) scale(1 1.035) rotate(-45)" font-family='"Liberation Sans", sans-serif' font-size="15.3" font-weight="bold" text-anchor="end" text-rendering="geometricPrecision" stroke="#000" stroke-width="0.2">Ctrl (F)</text>
<text transform="translate(839.4 279.4) scale(1 1.035) rotate(-45)" font-family='"Liberation Sans", sans-serif' font-size="15.3" font-weight="bold" text-anchor="end" text-rendering="geometricPrecision" stroke="#000" stroke-width="0.2">MTX (F)</text>
<text transform="translate(893.1 279.4) scale(1 1.035) rotate(-45)" font-family='"Liberation Sans", sans-serif' font-size="15.3" font-weight="bold" text-anchor="end" text-rendering="geometricPrecision" stroke="#000" stroke-width="0.2">Ctrl (M)</text>
<text transform="translate(946.7 279.4) scale(1 1.035) rotate(-45)" font-family='"Liberation Sans", sans-serif' font-size="15.3" font-weight="bold" text-anchor="end" text-rendering="geometricPrecision" stroke="#000" stroke-width="0.2">MTX (M)</text>
<text transform="translate(696.5 19.2) scale(1 1.05)" font-family='"Liberation Serif", serif' font-size="15.5" font-weight="normal" text-anchor="start" text-rendering="geometricPrecision">(C)</text>
<line x1="65.4" y1="80.2" x2="101.7" y2="80.2" stroke="#000" stroke-width="2.3" stroke-linecap="butt"/>
<path d="M70.1 65.3L70.1 72.7M66.9 67.15L73.3 70.85M66.9 70.85L73.3 67.15" stroke="#000" stroke-width="1.25" fill="none"/>
<circle cx="70.1" cy="69" r="1.15" fill="#000"/>
<path d="M79.3 65.3L79.3 72.7M76.1 67.15L82.5 70.85M76.1 70.85L82.5 67.15" stroke="#000" stroke-width="1.25" fill="none"/>
<circle cx="79.3" cy="69" r="1.15" fill="#000"/>
<path d="M88.4 65.3L88.4 72.7M85.2 67.15L91.6 70.85M85.2 70.85L91.6 67.15" stroke="#000" stroke-width="1.25" fill="none"/>
<circle cx="88.4" cy="69" r="1.15" fill="#000"/>
<path d="M97.5 65.3L97.5 72.7M94.3 67.15L100.7 70.85M94.3 70.85L100.7 67.15" stroke="#000" stroke-width="1.25" fill="none"/>
<circle cx="97.5" cy="69" r="1.15" fill="#000"/>
<line x1="170.2" y1="80.2" x2="207.7" y2="80.2" stroke="#000" stroke-width="2.3" stroke-linecap="butt"/>
<path d="M175.5 65.3L175.5 72.7M172.3 67.15L178.7 70.85M172.3 70.85L178.7 67.15" stroke="#000" stroke-width="1.25" fill="none"/>
<circle cx="175.5" cy="69" r="1.15" fill="#000"/>
<path d="M184.9 65.3L184.9 72.7M181.7 67.15L188.1 70.85M181.7 70.85L188.1 67.15" stroke="#000" stroke-width="1.25" fill="none"/>
<circle cx="184.9" cy="69" r="1.15" fill="#000"/>
<path d="M194 65.3L194 72.7M190.8 67.15L197.2 70.85M190.8 70.85L197.2 67.15" stroke="#000" stroke-width="1.25" fill="none"/>
<circle cx="194" cy="69" r="1.15" fill="#000"/>
<path d="M203 65.3L203 72.7M199.8 67.15L206.2 70.85M199.8 70.85L206.2 67.15" stroke="#000" stroke-width="1.25" fill="none"/>
<circle cx="203" cy="69" r="1.15" fill="#000"/>
<line x1="410" y1="58" x2="445.7" y2="58" stroke="#000" stroke-width="2.3" stroke-linecap="butt"/>
<path d="M413.7 43.3L413.7 50.7M410.5 45.15L416.9 48.85M410.5 48.85L416.9 45.15" stroke="#000" stroke-width="1.25" fill="none"/>
<circle cx="413.7" cy="47" r="1.15" fill="#000"/>
<path d="M423.3 43.3L423.3 50.7M420.1 45.15L426.5 48.85M420.1 48.85L426.5 45.15" stroke="#000" stroke-width="1.25" fill="none"/>
<circle cx="423.3" cy="47" r="1.15" fill="#000"/>
<path d="M432.8 43.3L432.8 50.7M429.6 45.15L436 48.85M429.6 48.85L436 45.15" stroke="#000" stroke-width="1.25" fill="none"/>
<circle cx="432.8" cy="47" r="1.15" fill="#000"/>
<path d="M442.2 43.3L442.2 50.7M439 45.15L445.4 48.85M439 48.85L445.4 45.15" stroke="#000" stroke-width="1.25" fill="none"/>
<circle cx="442.2" cy="47" r="1.15" fill="#000"/>
<line x1="517.3" y1="58.1" x2="556" y2="58.1" stroke="#000" stroke-width="2.3" stroke-linecap="butt"/>
<path d="M532.3 43.3L532.3 50.7M529.1 45.15L535.5 48.85M529.1 48.85L535.5 45.15" stroke="#000" stroke-width="1.25" fill="none"/>
<circle cx="532.3" cy="47" r="1.15" fill="#000"/>
<path d="M541.7 43.3L541.7 50.7M538.5 45.15L544.9 48.85M538.5 48.85L544.9 45.15" stroke="#000" stroke-width="1.25" fill="none"/>
<circle cx="541.7" cy="47" r="1.15" fill="#000"/>
<line x1="870.6" y1="77" x2="908.8" y2="77" stroke="#000" stroke-width="2.3" stroke-linecap="butt"/>
<path d="M880.7 62L880.7 69.4M877.5 63.85L883.9 67.55M877.5 67.55L883.9 63.85" stroke="#000" stroke-width="1.25" fill="none"/>
<circle cx="880.7" cy="65.7" r="1.15" fill="#000"/>
<path d="M890.4 62L890.4 69.4M887.2 63.85L893.6 67.55M887.2 67.55L893.6 63.85" stroke="#000" stroke-width="1.25" fill="none"/>
<circle cx="890.4" cy="65.7" r="1.15" fill="#000"/>
<path d="M900 62L900 69.4M896.8 63.85L903.2 67.55M896.8 67.55L903.2 63.85" stroke="#000" stroke-width="1.25" fill="none"/>
<circle cx="900" cy="65.7" r="1.15" fill="#000"/>
</svg>
</body></html>
